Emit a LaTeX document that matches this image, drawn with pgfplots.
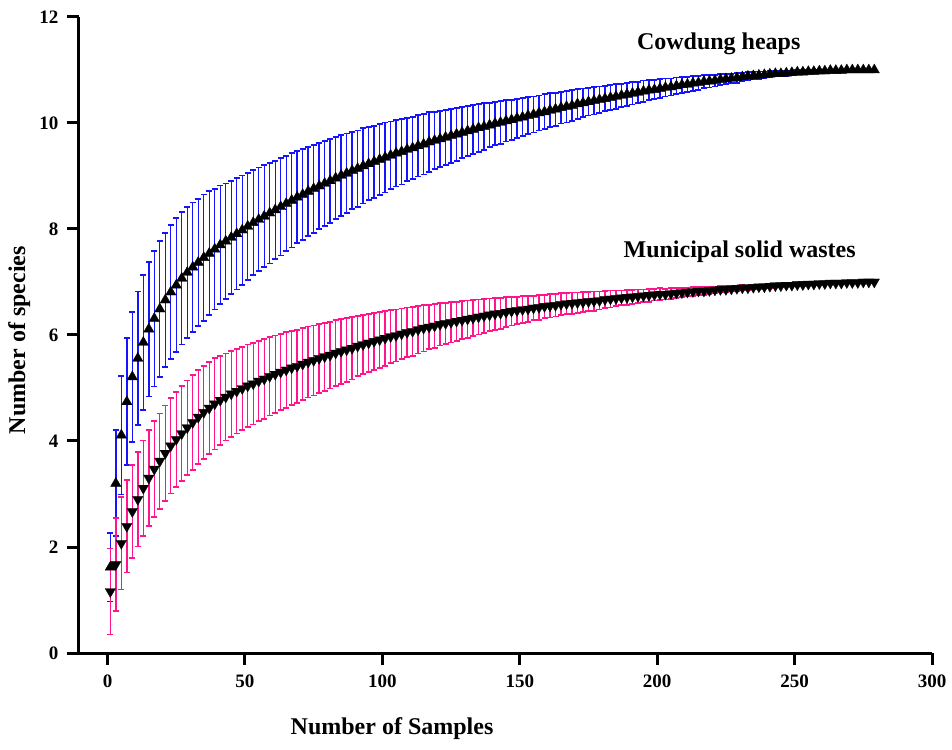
\documentclass[border=0pt]{standalone}
\usepackage{fontspec}
\setmainfont{Liberation Serif}
\usepackage{pgfplots}
\usepackage{pgfplotstable}
\pgfplotsset{compat=1.18}
\definecolor{cowblue}{RGB}{20,20,255}
\definecolor{mswpink}{RGB}{255,20,140}
\pgfplotstableread{
x y e
1 1.62 0.65
3 3.20 1.00
5 4.11 1.12
7 4.74 1.20
9 5.21 1.23
11 5.56 1.26
13 5.86 1.27
15 6.11 1.27
17 6.31 1.28
19 6.49 1.28
21 6.66 1.27
23 6.81 1.27
25 6.94 1.26
27 7.07 1.25
29 7.18 1.23
31 7.28 1.22
33 7.37 1.20
35 7.46 1.19
37 7.54 1.17
39 7.62 1.14
41 7.70 1.12
43 7.77 1.09
45 7.84 1.07
47 7.91 1.05
49 7.98 1.03
51 8.05 1.01
53 8.12 0.99
55 8.18 0.98
57 8.24 0.96
59 8.30 0.95
61 8.36 0.93
63 8.42 0.92
65 8.48 0.90
67 8.54 0.89
69 8.60 0.87
71 8.65 0.86
73 8.71 0.84
75 8.76 0.83
77 8.81 0.81
79 8.86 0.80
81 8.91 0.79
83 8.96 0.77
85 9.01 0.76
87 9.05 0.75
89 9.10 0.73
91 9.14 0.72
93 9.19 0.71
95 9.23 0.69
97 9.27 0.68
99 9.31 0.67
101 9.35 0.66
103 9.39 0.64
105 9.43 0.63
107 9.46 0.62
109 9.50 0.60
111 9.53 0.59
113 9.57 0.58
115 9.60 0.57
117 9.64 0.56
119 9.67 0.54
121 9.70 0.53
123 9.73 0.52
125 9.76 0.51
127 9.79 0.50
129 9.82 0.48
131 9.85 0.47
133 9.88 0.46
135 9.91 0.45
137 9.93 0.44
139 9.96 0.42
141 9.99 0.41
143 10.01 0.40
145 10.04 0.39
147 10.06 0.38
149 10.09 0.37
151 10.11 0.36
153 10.14 0.35
155 10.16 0.34
157 10.19 0.33
159 10.21 0.33
161 10.24 0.32
163 10.26 0.31
165 10.29 0.30
167 10.31 0.30
169 10.33 0.29
171 10.36 0.28
173 10.38 0.27
175 10.40 0.26
177 10.42 0.26
179 10.44 0.25
181 10.46 0.24
183 10.48 0.23
185 10.50 0.23
187 10.52 0.22
189 10.54 0.22
191 10.56 0.21
193 10.58 0.20
195 10.60 0.20
197 10.62 0.19
199 10.63 0.18
201 10.65 0.18
203 10.67 0.17
205 10.68 0.16
207 10.70 0.16
209 10.72 0.15
211 10.73 0.14
213 10.75 0.14
215 10.76 0.13
217 10.78 0.12
219 10.79 0.12
221 10.80 0.11
223 10.82 0.10
225 10.83 0.10
227 10.84 0.09
229 10.85 0.09
231 10.87 0.08
233 10.88 0.08
235 10.89 0.07
237 10.90 0.07
239 10.91 0.06
241 10.92 0.06
243 10.93 0.05
245 10.93 0.05
247 10.94 0.05
249 10.95 0.04
251 10.96 0.04
253 10.96 0.04
255 10.97 0.03
257 10.97 0.03
259 10.98 0.03
261 10.98 0.02
263 10.99 0.02
265 10.99 0.02
267 10.99 0.01
269 11.00 0.01
271 11.00 0.01
273 11.00 0.01
275 11.00 0.00
277 11.00 0.00
279 11.00 0.00
}\cowtable
\pgfplotstableread{
x y e
1 1.16 0.81
3 1.67 0.87
5 2.07 0.87
7 2.39 0.87
9 2.67 0.88
11 2.90 0.89
13 3.11 0.90
15 3.30 0.90
17 3.47 0.90
19 3.62 0.90
21 3.77 0.90
23 3.91 0.90
25 4.03 0.90
27 4.14 0.90
29 4.25 0.89
31 4.35 0.89
33 4.45 0.89
35 4.54 0.88
37 4.62 0.87
39 4.70 0.86
41 4.77 0.84
43 4.83 0.82
45 4.89 0.81
47 4.94 0.80
49 4.99 0.79
51 5.04 0.78
53 5.08 0.77
55 5.13 0.76
57 5.17 0.75
59 5.22 0.74
61 5.26 0.73
63 5.30 0.72
65 5.34 0.71
67 5.38 0.70
69 5.41 0.69
71 5.45 0.68
73 5.49 0.67
75 5.52 0.66
77 5.56 0.65
79 5.59 0.64
81 5.62 0.63
83 5.66 0.62
85 5.69 0.61
87 5.72 0.60
89 5.75 0.59
91 5.79 0.57
93 5.82 0.56
95 5.85 0.55
97 5.88 0.54
99 5.91 0.53
101 5.94 0.52
103 5.97 0.50
105 5.99 0.49
107 6.02 0.48
109 6.05 0.47
111 6.07 0.46
113 6.10 0.45
115 6.13 0.44
117 6.15 0.42
119 6.17 0.41
121 6.20 0.40
123 6.22 0.39
125 6.24 0.38
127 6.26 0.37
129 6.28 0.36
131 6.30 0.35
133 6.32 0.34
135 6.34 0.33
137 6.36 0.32
139 6.38 0.31
141 6.40 0.30
143 6.41 0.29
145 6.43 0.28
147 6.45 0.27
149 6.46 0.26
151 6.48 0.25
153 6.49 0.24
155 6.51 0.23
157 6.52 0.23
159 6.54 0.22
161 6.55 0.22
163 6.56 0.21
165 6.58 0.21
167 6.59 0.20
169 6.60 0.20
171 6.61 0.19
173 6.62 0.19
175 6.63 0.18
177 6.64 0.18
179 6.65 0.17
181 6.67 0.16
183 6.68 0.16
185 6.69 0.15
187 6.70 0.14
189 6.71 0.14
191 6.72 0.13
193 6.73 0.13
195 6.74 0.12
197 6.75 0.12
199 6.76 0.11
201 6.77 0.11
203 6.77 0.10
205 6.78 0.10
207 6.79 0.09
209 6.80 0.09
211 6.81 0.08
213 6.82 0.08
215 6.83 0.07
217 6.83 0.07
219 6.84 0.07
221 6.85 0.06
223 6.86 0.06
225 6.86 0.06
227 6.87 0.05
229 6.88 0.05
231 6.89 0.05
233 6.89 0.04
235 6.90 0.04
237 6.91 0.04
239 6.91 0.03
241 6.92 0.03
243 6.93 0.03
245 6.93 0.03
247 6.94 0.02
249 6.94 0.02
251 6.95 0.02
253 6.95 0.02
255 6.96 0.01
257 6.96 0.01
259 6.97 0.01
261 6.97 0.01
263 6.98 0.01
265 6.98 0.01
267 6.98 0.00
269 6.99 0.00
271 6.99 0.00
273 6.99 0.00
275 7.00 0.00
277 7.00 0.00
279 7.00 0.00
}\mswtable
\begin{document}
\begin{tikzpicture}
\path[use as bounding box] (-79pt,-96pt) rectangle (873pt,653pt);
\begin{axis}[
  at={(0pt,0pt)}, anchor=south west,
  scale only axis, width=853pt, height=636pt,
  xmin=-10.4, xmax=300, ymin=0, ymax=12,
  axis x line*=bottom, axis y line*=left,
  axis line style={line width=3pt, black},
  xtick={0,50,...,300}, ytick={0,2,...,12},
  minor tick num=0,
  tick align=outside, major tick length=12pt,
  tick style={line width=3pt, black},
  /pgf/number format/assume math mode=true,
  ticklabel style={font=\fontsize{19}{19}\selectfont\bfseries},
  xticklabel style={yshift=-6pt},
  yticklabel style={xshift=-5pt},
  xlabel={Number of Samples},
  ylabel={Number of species},
  label style={font=\fontsize{24}{24}\selectfont\bfseries},
  xlabel style={at={(axis description cs:0.367,-0.1195)}, anchor=center},
  ylabel style={at={(axis description cs:-0.070,0.492)}, anchor=center},
  clip=false,
]
\draw[line width=3pt, black] (axis cs:-10.4,0) -- ++(-12.3pt,0pt);
% Cowdung error bars
\addplot[color=cowblue, draw=cowblue, only marks, mark=none, forget plot,
  error bars/.cd, y dir=both, y explicit,
  error bar style={color=cowblue, line width=1.4pt, solid},
  error mark options={color=cowblue, rotate=90, mark size=3pt, line width=1.8pt}]
  table[x=x, y=y, y error=e]{\cowtable};
% MSW error bars
\addplot[color=mswpink, draw=mswpink, only marks, mark=none, forget plot,
  error bars/.cd, y dir=both, y explicit,
  error bar style={color=mswpink, line width=1.4pt, solid},
  error mark options={color=mswpink, rotate=90, mark size=3pt, line width=1.8pt}]
  table[x=x, y=y, y error=e]{\mswtable};
% markers
\addplot[only marks, mark=triangle*, mark size=6pt, mark options={fill=black, draw=black, line width=0.3pt}]
  table[x=x, y=y]{\cowtable};
\addplot[only marks, mark=triangle*, mark size=6pt, mark options={fill=black, draw=black, rotate=180, line width=0.3pt}]
  table[x=x, y=y]{\mswtable};
\node[anchor=base, font=\fontsize{24}{24}\selectfont\bfseries] at (axis cs:222.4,11.39) {Cowdung heaps};
\node[anchor=base, font=\fontsize{24}{24}\selectfont\bfseries] at (axis cs:230.0,7.47) {Municipal solid wastes};
\end{axis}
\end{tikzpicture}
\end{document}
